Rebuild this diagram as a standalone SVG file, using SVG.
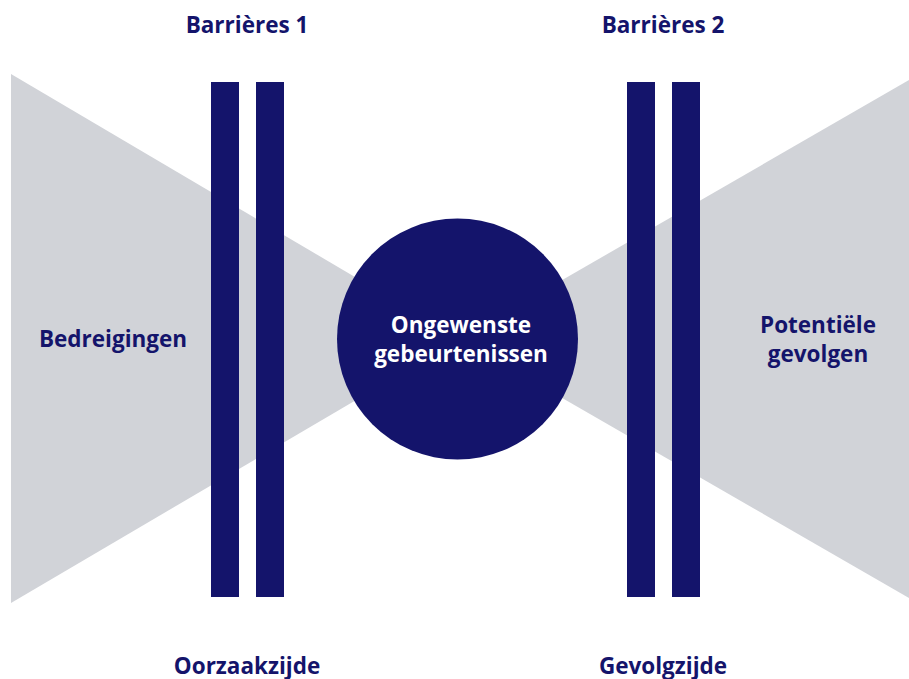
<svg xmlns="http://www.w3.org/2000/svg" width="909" height="679" viewBox="0 0 909 679">
<style>
.tri{fill:#d1d3d8}
.bar{fill:#14146b}
.t{font-family:"Open Sans","Liberation Sans",sans-serif;font-weight:700;font-size:22.5px;fill:#14146b;text-anchor:middle}
.w{fill:#ffffff}
</style>
<rect width="909" height="679" fill="#ffffff"/>
<g id="threats">
<polygon class="tri" points="11,74 460,339 11,603"/>
<text class="t" x="113" y="347">Bedreigingen</text>
</g>
<g id="consequences">
<polygon class="tri" points="909,80 460,339 909,598"/>
<text class="t" x="818" y="333">Potentiële</text>
<text class="t" x="818" y="362">gevolgen</text>
</g>
<g id="barriers1">
<rect class="bar" x="211" y="82" width="28" height="515"/>
<rect class="bar" x="256" y="82" width="28" height="515"/>
<text class="t" x="247" y="33">Barrières 1</text>
<text class="t" x="247" y="674">Oorzaakzijde</text>
</g>
<g id="barriers2">
<rect class="bar" x="627" y="82" width="28" height="515"/>
<rect class="bar" x="672" y="82" width="28" height="515"/>
<text class="t" x="663" y="33">Barrières 2</text>
<text class="t" x="663" y="674">Gevolgzijde</text>
</g>
<g id="event">
<circle class="bar" cx="457.5" cy="339" r="120.5"/>
<text class="t w" x="461" y="333">Ongewenste</text>
<text class="t w" x="461" y="362">gebeurtenissen</text>
</g>
<g id="connectors"></g>
</svg>
